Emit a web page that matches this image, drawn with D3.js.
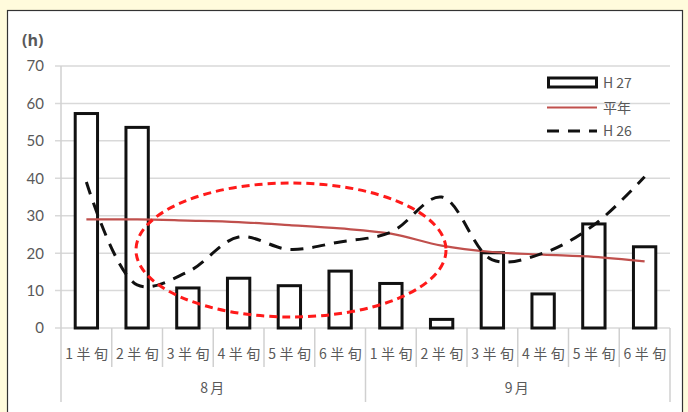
<!DOCTYPE html>
<html><head><meta charset="utf-8">
<script src="https://cdn.jsdelivr.net/npm/d3@7"></script>
<style>body{margin:0;background:#fffbdc;}svg{display:block;}</style>
</head><body>
<script>
const categories = ["1半旬","2半旬","3半旬","4半旬","5半旬","6半旬","1半旬","2半旬","3半旬","4半旬","5半旬","6半旬"];
const months = ["8月","9月"];
const h27 = [57.3, 53.6, 10.7, 13.3, 11.3, 15.2, 11.9, 2.3, 20.1, 9.1, 27.8, 21.7];
const heinen = [29, 29, 28.7, 28.3, 27.5, 26.6, 25.2, 22, 20.3, 19.6, 19, 17.8];
const h26 = [39, 11.5, 15, 24.3, 21, 23, 25.6, 35, 18.2, 20, 27.5, 40.4];
const yTicks = [0,10,20,30,40,50,60,70];
const legendLabels = ["H 27","平年","H 26"];

const W=688,H=412;
const svg=d3.select("body").append("svg").attr("width",W).attr("height",H);
svg.append("rect").attr("x",0).attr("y",0).attr("width",W).attr("height",H).attr("fill","#fffbdc");
svg.append("rect").attr("x",7.5).attr("y",10.5).attr("width",675).attr("height",420).attr("fill","#fff").attr("stroke","#333").attr("stroke-width",1.2);

const x0=61,x1=670,yTop=66,yBot=328;
const x=d3.scaleBand().domain(d3.range(categories.length)).range([x0,x1]).paddingInner(0.56).paddingOuter(0.28);
const xc=d3.scaleBand().domain(d3.range(categories.length)).range([x0,x1]);
const y=d3.scaleLinear().domain([0,70]).range([yBot,yTop]);
const gray="#595959";

// gridlines
svg.append("g").selectAll("line").data(yTicks).join("line")
 .attr("x1",x0-6).attr("x2",x1).attr("y1",d=>y(d)).attr("y2",d=>y(d))
 .attr("stroke","#d9d9d9").attr("stroke-width",1.5);
// y labels
svg.append("g").selectAll("text").data(yTicks).join("text")
 .attr("x",44).attr("y",d=>y(d)).attr("dy","0.36em").attr("text-anchor","end")
 .attr("font-family","Lato, 'Open Sans', sans-serif").attr("font-size",15).attr("fill",gray).text(d=>d);
svg.append("text").attr("x",22).attr("y",46).attr("font-family","'Open Sans', sans-serif").attr("font-size",16).attr("font-weight","bold").attr("fill",gray).text("(h)");

// vertical axis and group separators
[0,6,12].forEach(i=>{
  const xx = i<12 ? xc(i) : x1;
  svg.append("line").attr("x1",xx).attr("x2",xx).attr("y1",i===0?yTop:yBot).attr("y2",402).attr("stroke","#d0d0d0").attr("stroke-width",1.5);
});
// short ticks
d3.range(1,12).filter(i=>i!==6).forEach(i=>{
  svg.append("line").attr("x1",xc(i)).attr("x2",xc(i)).attr("y1",yBot).attr("y2",367).attr("stroke","#d0d0d0").attr("stroke-width",1.5);
});
// category labels
svg.append("g").selectAll("text").data(categories).join("text")
 .attr("x",(d,i)=>xc(i)+xc.bandwidth()/2+2).attr("y",359).attr("text-anchor","middle")
 .attr("font-family","'Noto Sans CJK JP', sans-serif").attr("font-size",14).attr("letter-spacing",3.5).attr("fill",gray).text(d=>d);
months.forEach((m,k)=>{
  const a=xc(k*6), b=k===1?x1:xc(6);
  svg.append("text").attr("x",(a+b)/2).attr("y",393).attr("text-anchor","middle")
   .attr("font-family","'Noto Sans CJK JP', sans-serif").attr("font-size",14).attr("letter-spacing",2).attr("fill",gray).text(m);
});

// bars
svg.append("g").selectAll("rect").data(h27).join("rect")
 .attr("x",(d,i)=>x(i)).attr("width",x.bandwidth()).attr("y",d=>y(d)).attr("height",d=>y(0)-y(d))
 .attr("fill","#fff").attr("stroke","#111").attr("stroke-width",3);

const cx=i=>xc(i)+xc.bandwidth()/2;
// heinen line
svg.append("path").datum(heinen).attr("fill","none").attr("stroke","#c0504d").attr("stroke-width",2.2)
 .attr("d",d3.line().x((d,i)=>cx(i)).y(d=>y(d)).curve(d3.curveMonotoneX));
// h26 line
svg.append("path").datum(h26).attr("fill","none").attr("stroke","#111").attr("stroke-width",3).attr("stroke-dasharray","13,9")
 .attr("d",d3.line().x((d,i)=>cx(i)).y(d=>y(d)).curve(d3.curveCatmullRom.alpha(0.5)));

// annotation ellipse
svg.append("ellipse").attr("cx",291).attr("cy",250).attr("rx",155).attr("ry",67)
 .attr("fill","none").attr("stroke","#ff1a1a").attr("stroke-width",3).attr("stroke-dasharray","8,5");

// legend
const lx=547;
svg.append("rect").attr("x",lx+1.5).attr("y",78).attr("width",48).attr("height",9).attr("fill","#fff").attr("stroke","#111").attr("stroke-width",3);
svg.append("line").attr("x1",lx).attr("x2",lx+50).attr("y1",107.5).attr("y2",107.5).attr("stroke","#c0504d").attr("stroke-width",2.2);
svg.append("line").attr("x1",lx).attr("x2",lx+50).attr("y1",131).attr("y2",131).attr("stroke","#111").attr("stroke-width",3).attr("stroke-dasharray","12,9");
legendLabels.forEach((t,i)=>{
  svg.append("text").attr("x",603).attr("y",[83,107.5,131][i]).attr("dy","0.36em")
   .attr("font-family","'Noto Sans CJK JP', sans-serif").attr("font-size",14).attr("fill",gray).text(t);
});
</script>
</body></html>
